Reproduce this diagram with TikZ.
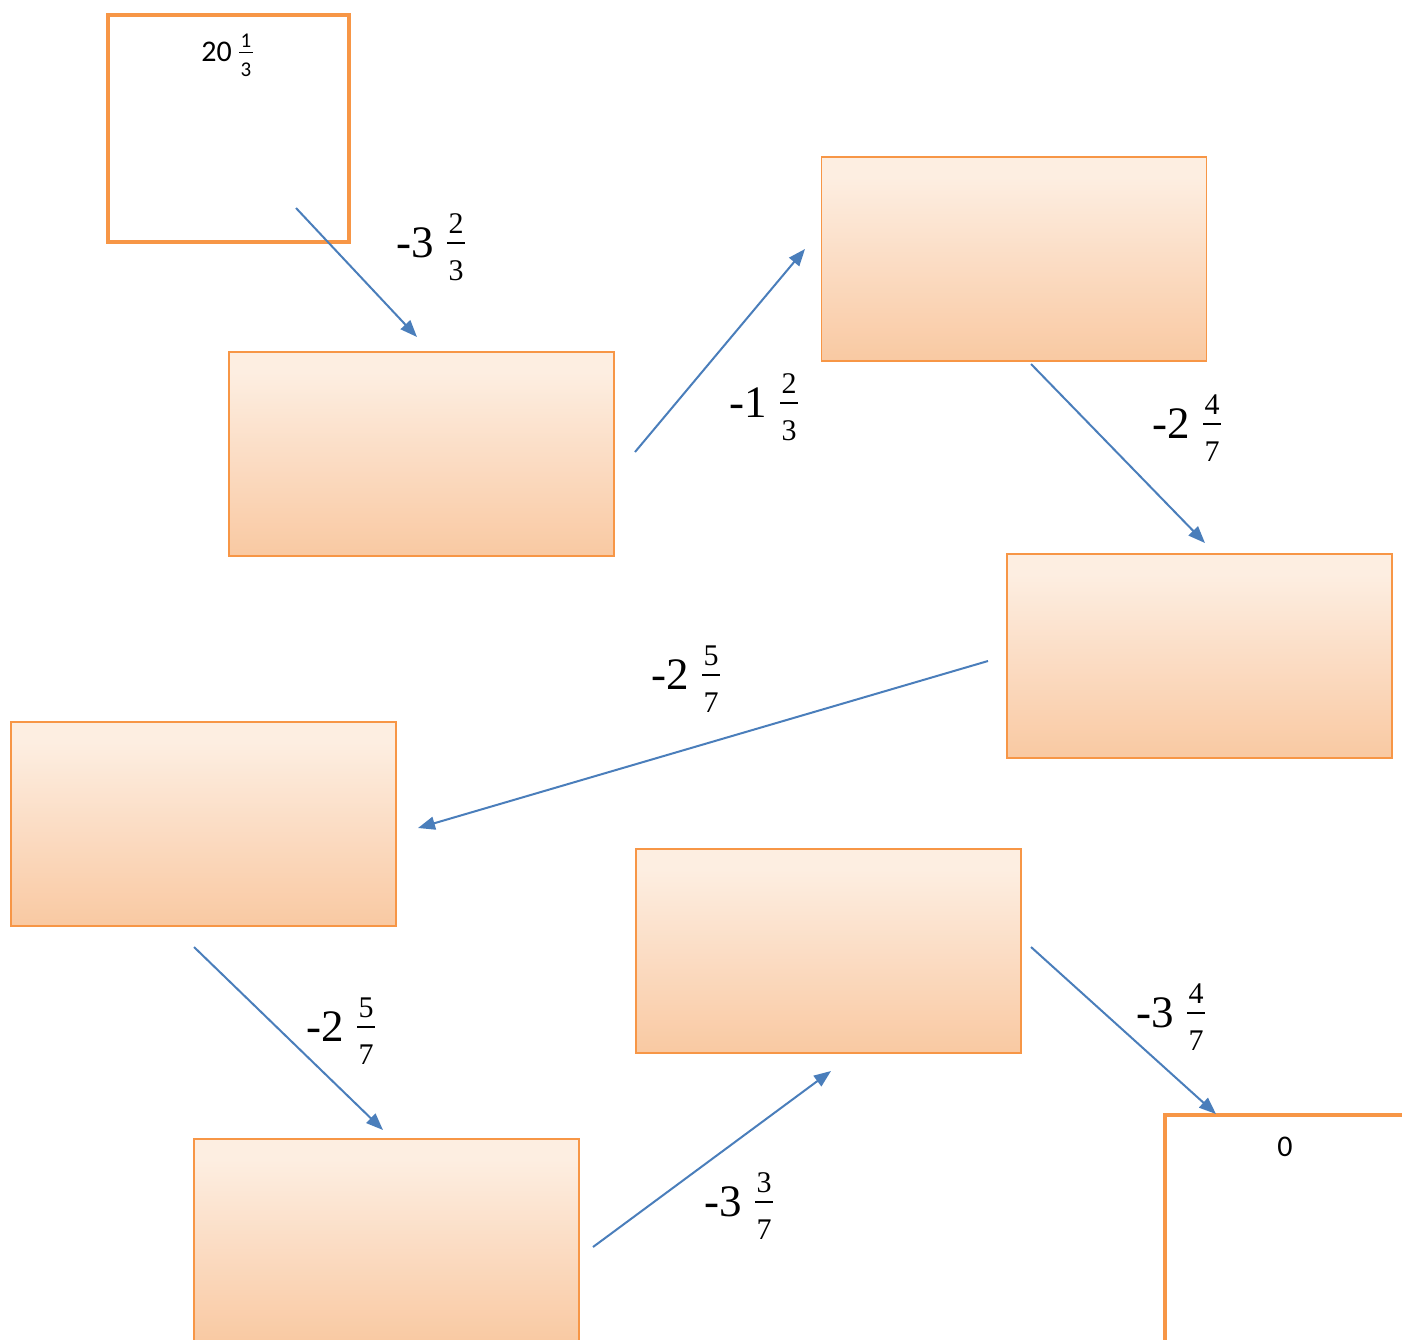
\documentclass[tikz,border=0pt]{standalone}
\usepackage{fontspec}
\setmainfont{Carlito}
\newfontfamily\lblfont{Liberation Serif}
\usetikzlibrary{arrows.meta}
\definecolor{orng}{HTML}{F79646}
\definecolor{arrblue}{HTML}{4A7EBB}
\definecolor{ptop}{HTML}{FDEEE1}
\definecolor{pmid}{HTML}{FBDDC5}
\definecolor{pbot}{HTML}{F9C9A2}
\pgfdeclareverticalshading{peach}{100bp}{color(0bp)=(pbot); color(25bp)=(pbot); color(50bp)=(pmid); color(70bp)=(ptop); color(100bp)=(ptop)}
\tikzset{
  gbox/.style={draw=orng, line width=1.8pt, shading=peach, inner sep=0pt, minimum width=385pt, minimum height=204pt},
  tbox/.style={draw=orng, line width=4pt, fill=white, inner sep=0pt, minimum width=241pt, minimum height=227pt},
  conn/.style={draw=arrblue, line width=2pt, -{Triangle[length=17pt,width=13pt]}},
  whole/.style={font=\lblfont\fontsize{45}{48}\selectfont, inner sep=0pt},
  fracdig/.style={font=\lblfont\fontsize{30}{32}\selectfont, inner sep=0pt},
  fracbar/.style={line width=2pt, draw=black},
  boxtxt/.style={font=\fontsize{30}{32}\selectfont, inner sep=0pt},
  boxfrac/.style={font=\fontsize{21}{23}\selectfont, inner sep=0pt},
}
\newcommand{\mixlab}[6]{%
  \node[whole, anchor=base east] (#1w) at (#2-22,#3+14) {-#4};
  \node[fracdig, anchor=base] (#1n) at (#2,#3-10) {#5};
  \node[fracdig, anchor=base] (#1d) at (#2,#3+37) {#6};
  \draw[fracbar] (#2-9,#3) -- (#2+9,#3);
}
\begin{document}
\begin{tikzpicture}[x=1pt,y=-1pt]
\useasboundingbox (0,0) rectangle (1402,1339);
\clip (0,0) rectangle (1402,1339);
% boxes
\node[tbox] (start) at (228.5,128.5) {};
\node[gbox] (b1) at (421.5,454) {};
\node[gbox] (b2) at (1014,259) {};
\node[gbox] (b3) at (1199.5,656) {};
\node[gbox] (b4) at (203.5,824) {};
\node[gbox] (b5) at (828.5,951) {};
\node[gbox] (b6) at (386.5,1241) {};
\node[tbox, minimum width=245pt] (finish) at (1287,1228.5) {};
% box texts
\node[boxtxt, anchor=base east] (sw) at (232,61.7) {20};
\node[boxfrac, anchor=base] (sn) at (246,47.7) {1};
\node[boxfrac, anchor=base] (sd) at (246,76.7) {3};
\draw[line width=1.5pt] (239,52.7) -- (253,52.7);
\node[boxtxt, anchor=base] (zero) at (1285,1156) {0};
% connectors
\coordinate (a1s) at (296,208); \coordinate (a1e) at (417,337);
\coordinate (a2s) at (635,452); \coordinate (a2e) at (805,249);
\coordinate (a3s) at (1031,364); \coordinate (a3e) at (1205,543);
\coordinate (a4s) at (988,661); \coordinate (a4e) at (418,828);
\coordinate (a5s) at (194,947); \coordinate (a5e) at (383,1130);
\coordinate (a6s) at (593,1247); \coordinate (a6e) at (831,1071);
\coordinate (a7s) at (1031,947); \coordinate (a7e) at (1216,1114);
\draw[conn] (a1s) -- (a1e);
\draw[conn] (a2s) -- (a2e);
\draw[conn] (a3s) -- (a3e);
\draw[conn] (a4s) -- (a4e);
\draw[conn] (a5s) -- (a5e);
\draw[conn] (a6s) -- (a6e);
\draw[conn] (a7s) -- (a7e);
% labels
\mixlab{l1}{456}{243}{3}{2}{3}
\mixlab{l2}{789}{403}{1}{2}{3}
\mixlab{l3}{1212}{424}{2}{4}{7}
\mixlab{l4}{711}{675}{2}{5}{7}
\mixlab{l5}{366}{1027}{2}{5}{7}
\mixlab{l6}{764}{1202}{3}{3}{7}
\mixlab{l7}{1196}{1013}{3}{4}{7}
\end{tikzpicture}
\end{document}
